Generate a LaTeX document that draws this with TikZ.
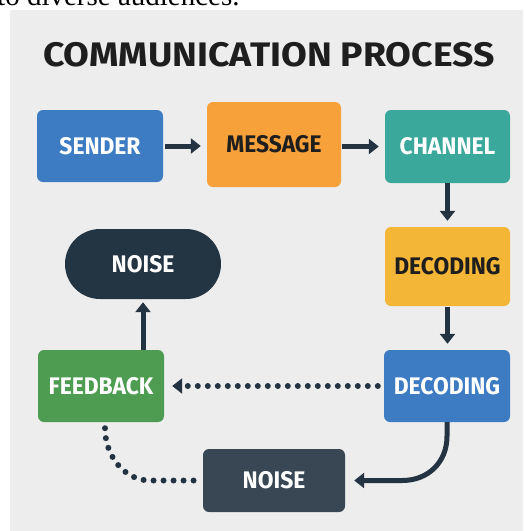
\documentclass[tikz,border=0pt]{standalone}
\usepackage{fontspec}
\setmainfont{Liberation Serif}
\newfontfamily\lab[FakeStretch=0.95]{Fira Sans}
\newfontfamily\ttl[FakeStretch=1.1]{Fira Sans}
\usetikzlibrary{arrows.meta,calc}
\definecolor{bg}{HTML}{EDEDED}
\definecolor{cblue}{HTML}{3D7CC2}
\definecolor{corange}{HTML}{F7A13A}
\definecolor{cteal}{HTML}{3BA89C}
\definecolor{cyellow}{HTML}{F3B637}
\definecolor{cdark}{HTML}{233443}
\definecolor{cslate}{HTML}{394755}
\definecolor{cgreen}{HTML}{4E9C52}
\definecolor{carrow}{HTML}{243342}
\definecolor{ctext}{HTML}{1E1E1E}
\tikzset{
  box/.style={rectangle, rounded corners=6pt, inner sep=0pt, font=\lab\bfseries\fontsize{24}{24}\selectfont, text=white},
  arr/.style={draw=carrow, line width=5pt, -{Triangle[width=15pt,length=10pt]}},
  dotarr/.style={draw=carrow, line width=6pt, line cap=round, dash pattern=on 0pt off 10pt},
}
\begin{document}
\begin{tikzpicture}[x=1pt,y=-1pt]
\useasboundingbox (0,0) rectangle (523,531);
\fill[white] (0,0) rectangle (523,531);
\fill[bg] (10,10) rectangle (523,531);
\node[anchor=base west, inner sep=0pt, font=\fontsize{29}{29}\selectfont] (top) at (-3,5) {to diverse audiences.};
\node[font=\ttl\bfseries\fontsize{34}{34}\selectfont, text=ctext] (title) at (269,55) {COMMUNICATION PROCESS};

\node[box, fill=cblue, minimum width=126pt, minimum height=72pt] (sender) at (100,146) {SENDER};
\node[box, fill=corange, text=ctext, minimum width=134pt, minimum height=85pt] (message) at (274,144.5) {MESSAGE};
\node[box, fill=cteal, minimum width=125pt, minimum height=73pt] (channel) at (447.5,146.5) {CHANNEL};
\node[box, fill=cyellow, text=ctext, minimum width=125pt, minimum height=79pt] (decoding) at (447.5,266.5) {DECODING};
\node[box, fill=cdark, rounded corners=35pt, minimum width=156pt, minimum height=70pt] (noisetop) at (143,264) {NOISE};
\node[box, fill=cgreen, minimum width=126pt, minimum height=72pt] (feedback) at (101,386) {FEEDBACK};
\node[box, fill=cblue, minimum width=126pt, minimum height=72pt] (decoding2) at (447,386) {DECODING};
\node[box, fill=cslate, minimum width=142pt, minimum height=63pt] (noisebot) at (274,480.5) {NOISE};

\draw[arr, shorten <=2pt, shorten >=6pt] (sender.east) -- (message.west |- sender.east);
\draw[arr, shorten <=1pt, shorten >=6pt] (message.east |- channel.west) -- (channel.west);
\draw[arr, shorten >=6pt] (channel.south) -- (decoding.north);
\draw[arr, shorten <=1pt, shorten >=6pt] (decoding.south) -- (decoding2.north -| decoding.south);
\draw[arr, shorten >=3pt] (feedback.north -| noisetop.south) -- (noisetop.south);
\draw[dotarr, shorten <=6pt, shorten >=8pt, -{Triangle[width=15pt,length=10pt]}] (decoding2.west) -- (feedback.east);
\draw[arr, shorten >=9pt] (decoding2.south) -- ++(0,14) .. controls +(0,26) and +(26,0) .. ($(noisebot.east)+(57,0)$) -- (noisebot.east);
\draw[dotarr, shorten >=6pt] ($(feedback.south)+(4,6)$) .. controls +(0,28) and +(-25,0) .. ($(noisebot.west)+(-53,0)$) -- (noisebot.west);
\end{tikzpicture}
\end{document}
